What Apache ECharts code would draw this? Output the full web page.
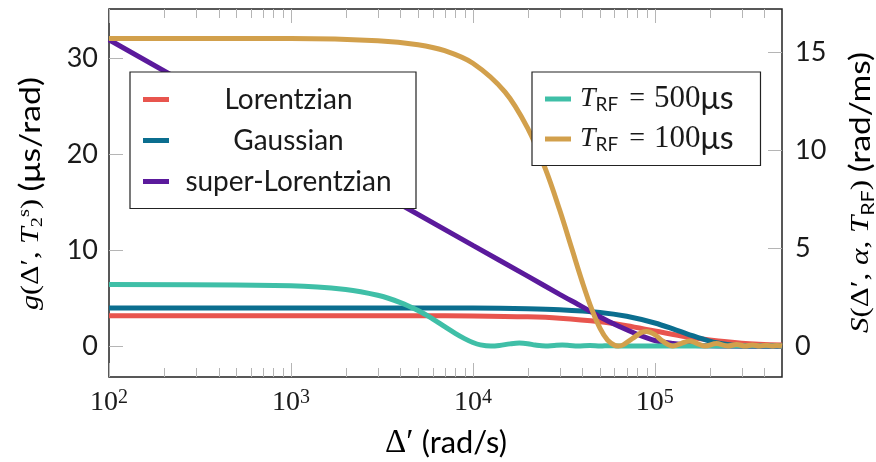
<!DOCTYPE html>
<html>
<head>
<meta charset="utf-8">
<script src="https://cdn.jsdelivr.net/npm/echarts@6/dist/echarts.min.js"></script>
<style>
  html, body { margin: 0; padding: 0; background: #fff; }
  #chart { width: 876px; height: 462px; }
</style>
</head>
<body>
<div id="chart"></div>
<script>
// Offset frequency Δ' (rad/s) and absorption line shapes g (μs/rad), left axis
const dLor = [100, 1000, 5000, 10000, 20000, 30000, 50000, 70000, 100000, 150000, 200000, 300000, 500000];
const gLor = [3.18, 3.18, 3.18, 3.15, 3.06, 2.92, 2.55, 2.13, 1.59, 0.98, 0.64, 0.32, 0.12];

const dGau = [100, 1000, 5000, 10000, 20000, 30000, 50000, 70000, 100000, 130000, 150000, 200000, 250000, 300000, 400000, 500000];
const gGau = [3.99, 3.99, 3.99, 3.97, 3.91, 3.81, 3.52, 3.12, 2.42, 1.71, 1.30, 0.54, 0.18, 0.04, 0.0, 0.0];

const dSL = [100, 1000, 10000, 20000, 30000, 40000, 50000, 63000, 80000, 100000, 126000, 160000, 200000, 300000, 500000];
const gSL = [31.9, 21.2, 10.5, 7.3, 5.4, 4.1, 3.05, 2.1, 1.25, 0.6, 0.28, 0.1, 0.04, 0.0, 0.0];

// RF pulse spectra S (rad/ms), right axis
const dRF500 = [100, 1000, 2000, 3000, 4000, 5000, 6000, 7000, 8000, 9000, 10000, 11000, 12566, 14000, 16000, 18000, 20000, 22000, 25133, 28000, 31000, 34000, 37700, 44000, 50300, 56000, 62800, 100000, 500000];
const sRF500 = [3.14, 3.08, 2.89, 2.59, 2.22, 1.81, 1.39, 0.99, 0.65, 0.38, 0.18, 0.06, 0.0, 0.03, 0.11, 0.15, 0.12, 0.05, 0.0, 0.03, 0.05, 0.03, 0.0, 0.03, 0.0, 0.02, 0.0, 0.0, 0.0];

const dRF100 = [100, 1000, 3000, 5000, 7000, 10000, 15000, 20000, 25000, 30000, 35000, 40000, 45000, 50000, 55000, 60000, 62832, 67000, 75000, 85000, 90000, 100000, 110000, 125664, 140000, 155000, 170000, 188500, 218000, 251300, 281500, 314200, 344000, 377000, 408000, 440000, 470000, 500000];
const sRF100 = [15.7, 15.69, 15.58, 15.38, 15.07, 14.43, 12.97, 11.12, 9.05, 6.94, 4.96, 3.25, 1.88, 0.90, 0.30, 0.04, 0.0, 0.06, 0.37, 0.70, 0.74, 0.58, 0.26, 0.0, 0.14, 0.26, 0.14, 0.0, 0.13, 0.0, 0.08, 0.0, 0.05, 0.0, 0.04, 0.0, 0.03, 0.0];

// Tick positions
const xMajorTicks = [100, 1000, 10000, 100000];
const xMinorTicks = [200, 300, 400, 500, 600, 700, 800, 900,
                     2000, 3000, 4000, 5000, 6000, 7000, 8000, 9000,
                     20000, 30000, 40000, 50000, 60000, 70000, 80000, 90000,
                     200000, 300000, 400000];
const yLeftTicks = [0, 10, 20, 30];
const yRightTicks = [0, 5, 10, 15];

const names = ['Lorentzian', 'Gaussian', 'super-Lorentzian', 'T_RF = 500μs', 'T_RF = 100μs'];
const colors = ['#e8554e', '#0b6e8f', '#5b1a9c', '#3fbfa7', '#d2a04c'];

const zip = (xs, ys) => xs.map((x, i) => [x, ys[i]]);

const W = 876, H = 462;
const GRID = { left: 109, right: 94, top: 9, bottom: 85 };
const SANS = 'Lato';
const SERIF = 'Liberation Serif';
const INK = '#1a1a1a';
const TICK = '#b5b5b5';

// Text measuring, used to fit rich labels to their intended lengths
const meas = document.createElement('canvas').getContext('2d');
function textWidth(str, st) {
  meas.font = (st.fontStyle || 'normal') + ' ' + st.fontSize + 'px "' + st.fontFamily + '"';
  const pad = st.padding ? st.padding[1] + st.padding[3] : 0;
  return meas.measureText(str).width + pad;
}
const richWidth = (tokens, rich) => tokens.reduce((s, t) => s + textWidth(t[1], rich[t[0]]), 0);
const richText = tokens => tokens.map(t => '{' + t[0] + '|' + t[1] + '}').join('');

// RF legend entries: T_RF = ...μs
const rfRich = {
  t: { fontFamily: SERIF, fontStyle: 'italic', fontSize: 28, lineHeight: 30, padding: [0, 0, 0, 4], color: INK },
  sub: { fontFamily: SANS, fontSize: 19, lineHeight: 19, verticalAlign: 'bottom', color: INK },
  eq: { fontFamily: SERIF, fontSize: 28, lineHeight: 30, padding: [0, 9, 0, 11], color: INK },
  n: { fontFamily: SERIF, fontSize: 31, lineHeight: 30, color: INK },
  u: { fontFamily: SANS, fontSize: 32, lineHeight: 30, color: INK }
};
const rfTokens = v => [['t', 'T'], ['sub', 'RF'], ['eq', '='], ['n', v], ['u', 'μs']];
const rfLabel = {
  'T_RF = 500μs': richText(rfTokens('500')),
  'T_RF = 100μs': richText(rfTokens('100'))
};

const chart = echarts.init(document.getElementById('chart'), null, { renderer: 'canvas' });

function yAxisDef(position, min, max, ticks, margin) {
  return {
    type: 'value', min: min, max: max, position: position,
    axisLine: { show: false },
    splitLine: { show: false },
    axisTick: { show: false },
    axisLabel: { show: true, margin: margin, customValues: ticks, fontFamily: SANS, fontSize: 27, color: INK }
  };
}

const lineSeries = (i, xs, ys, yIdx) => ({
  name: names[i], type: 'line', xAxisIndex: 0, yAxisIndex: yIdx,
  data: zip(xs, ys), symbol: 'none', smooth: 0.35,
  lineStyle: { width: 5, color: colors[i] }, itemStyle: { color: colors[i] },
  emphasis: { disabled: true }
});

chart.setOption({
  animation: false,
  backgroundColor: '#fff',
  grid: Object.assign({ show: true, borderColor: '#222', borderWidth: 1.5, backgroundColor: 'transparent' }, GRID),
  xAxis: {
    type: 'log', logBase: 10, min: 100, max: 500000, position: 'bottom',
    axisLine: { show: false },
    splitLine: { show: false },
    axisTick: { show: false },
    axisLabel: {
      show: true, margin: 11, customValues: xMajorTicks,
      formatter: v => '{b|10}{s|' + Math.round(Math.log10(v)) + '}',
      rich: {
        b: { fontFamily: SERIF, fontSize: 28, lineHeight: 30, color: INK },
        s: { fontFamily: SERIF, fontSize: 20, lineHeight: 20, verticalAlign: 'top', color: INK }
      }
    }
  },
  yAxis: [
    yAxisDef('left', -3.2, 35.1, yLeftTicks, 11),
    yAxisDef('right', -1.58, 17.2, yRightTicks, 13)
  ],
  legend: [
    {
      data: names.slice(0, 3), orient: 'vertical', left: 130, top: 72,
      padding: [13.5, 13, 13, 13], itemGap: 13, itemWidth: 26, itemHeight: 5, icon: 'rect',
      borderColor: '#222', borderWidth: 1.2, backgroundColor: '#fff', selectedMode: false,
      formatter: n => '{c|' + n + '}',
      textStyle: { rich: { c: { width: 229, align: 'center', fontFamily: SANS, fontSize: 28, lineHeight: 30, color: INK } } }
    },
    {
      data: names.slice(3), orient: 'vertical', left: 532, top: 72,
      padding: [11, 27, 10.5, 13], itemGap: 8, itemWidth: 26, itemHeight: 5, icon: 'rect',
      borderColor: '#222', borderWidth: 1.2, backgroundColor: '#fff', selectedMode: false,
      formatter: n => rfLabel[n],
      textStyle: { rich: rfRich }
    }
  ],
  series: [
    lineSeries(0, dLor, gLor, 0),
    lineSeries(1, dGau, gGau, 0),
    lineSeries(2, dSL, gSL, 0),
    lineSeries(3, dRF500, sRF500, 1),
    lineSeries(4, dRF100, sRF100, 1)
  ]
});

// Axis titles
const xTitleRich = {
  d: { fontFamily: SERIF, fontSize: 30, color: INK },
  u: { fontFamily: SANS, fontSize: 28, color: INK }
};
const xTitleTokens = [['d', 'Δ′ '], ['u', '(rad/s)']];
{
  const k = Math.min(1.15, Math.max(0.9, 122 / richWidth(xTitleTokens, xTitleRich)));
  xTitleRich.d.fontSize *= k;
  xTitleRich.u.fontSize *= k;
}

const gTitleRich = {
  i: { fontFamily: SERIF, fontStyle: 'italic', fontSize: 25, lineHeight: 30, color: INK },
  r: { fontFamily: SERIF, fontSize: 25, lineHeight: 30, color: INK },
  sub: { fontFamily: SERIF, fontSize: 17, lineHeight: 17, verticalAlign: 'bottom', color: INK },
  sup: { fontFamily: SERIF, fontSize: 17, lineHeight: 17, verticalAlign: 'top', color: INK },
  u: { fontFamily: SANS, fontSize: 28, lineHeight: 30, color: INK }
};
const gTitleTokens = [['i', 'g'], ['r', '(Δ′, '], ['i', 'T'], ['sub', '2'], ['sup', 's'], ['r', ') '], ['u', '(μs/rad)']];

const sTitleRich = {
  i: { fontFamily: SERIF, fontStyle: 'italic', fontSize: 26, lineHeight: 32, color: INK },
  r: { fontFamily: SERIF, fontSize: 26, lineHeight: 32, color: INK },
  sub: { fontFamily: SANS, fontSize: 18, lineHeight: 18, verticalAlign: 'bottom', color: INK },
  u: { fontFamily: SANS, fontSize: 28, lineHeight: 32, color: INK }
};
const sTitleTokens = [['i', 'S'], ['r', '(Δ′, '], ['i', 'α'], ['r', ', '], ['i', 'T'], ['sub', 'RF'], ['r', ') '], ['u', '(rad/ms)']];

const stretch = (tokens, rich, len) => Math.min(1.4, Math.max(0.8, len / richWidth(tokens, rich)));

const titles = [
  {
    type: 'text', x: 446, y: 443, silent: true,
    style: { text: richText(xTitleTokens), align: 'center', verticalAlign: 'middle', rich: xTitleRich }
  },
  {
    type: 'text', x: 31, y: 193.5, rotation: Math.PI / 2, scaleX: stretch(gTitleTokens, gTitleRich, 233), silent: true,
    style: { text: richText(gTitleTokens), align: 'center', verticalAlign: 'middle', rich: gTitleRich }
  },
  {
    type: 'text', x: 861, y: 192.5, rotation: Math.PI / 2, scaleX: stretch(sTitleTokens, sTitleRich, 281), silent: true,
    style: { text: richText(sTitleTokens), align: 'center', verticalAlign: 'middle', rich: sTitleRich }
  }
];

// Inward tick marks on all four sides, placed through the axes' own scales
const x0 = GRID.left, x1 = W - GRID.right, y0 = GRID.top, y1 = H - GRID.bottom;
const tickLine = (ax, ay, bx, by) => ({
  type: 'line', silent: true, z: 1,
  shape: { x1: ax, y1: ay, x2: bx, y2: by },
  style: { stroke: TICK, lineWidth: 1 }
});
const ticks = [];
xMajorTicks.forEach(v => {
  const px = Math.round(chart.convertToPixel({ xAxisIndex: 0 }, v)) + 0.5;
  ticks.push(tickLine(px, y1, px, y1 - 14), tickLine(px, y0, px, y0 + 14));
});
xMinorTicks.forEach(v => {
  const px = Math.round(chart.convertToPixel({ xAxisIndex: 0 }, v)) + 0.5;
  ticks.push(tickLine(px, y1, px, y1 - 9), tickLine(px, y0, px, y0 + 9));
});
yLeftTicks.forEach(v => {
  const py = Math.round(chart.convertToPixel({ yAxisIndex: 0 }, v)) + 0.5;
  ticks.push(tickLine(x0, py, x0 + 14, py));
});
yRightTicks.forEach(v => {
  const py = Math.round(chart.convertToPixel({ yAxisIndex: 1 }, v)) + 0.5;
  ticks.push(tickLine(x1, py, x1 - 14, py));
});

chart.setOption({ graphic: titles.concat(ticks) });
</script>
</body>
</html>
